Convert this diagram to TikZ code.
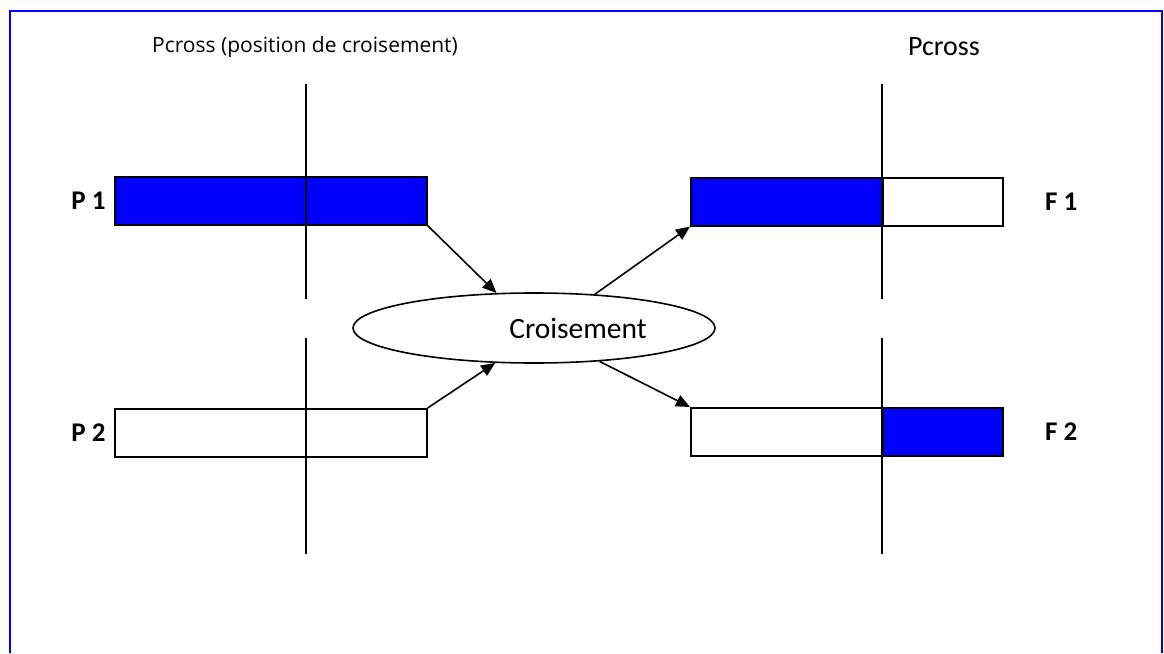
\documentclass[tikz,border=0pt]{standalone}
\usepackage{fontspec}
\setmainfont{Carlito}
\newfontfamily\handfont{Open Sans}
\usepackage{tikz}
\usetikzlibrary{shapes.geometric, arrows.meta, positioning}
\tikzstyle{chrom}  = [rectangle, draw=black, line width=1.6pt, minimum height=48pt, inner sep=0pt, anchor=north west]
\tikzstyle{gene}   = [chrom, fill=blue]
\tikzstyle{tag}    = [font=\bfseries\fontsize{27}{27}\selectfont]
\tikzstyle{arrow}  = [line width=1.6pt, -{Triangle[length=14pt, width=12pt]}]
\tikzstyle{cut}    = [line width=1.6pt]

\begin{document}
\begin{tikzpicture}[x=1pt, y=-1pt]
    \useasboundingbox (0,0) rectangle (1164,653);
    \draw [blue, line width=2.4pt] (10,653) -- (10,11) -- (1162,11) -- (1162,653);

    \node (pos)  [font=\handfont\fontsize{21}{21}\selectfont] at (305,47) {Pcross (position de croisement)};
    \node (pos2) [font=\fontsize{28}{28}\selectfont] at (944,47) {Pcross};

    % parents
    \node (P1)  [gene,  minimum width=312pt] at (114,176) {};
    \node (P2)  [chrom, minimum width=312pt] at (114,408) {};
    % children, cut at Pcross
    \node (F1a) [gene,  minimum width=192pt] at (690,177) {};
    \node (F1b) [chrom, minimum width=120pt] at (882,177) {};
    \node (F2a) [chrom, minimum width=192pt] at (690,407) {};
    \node (F2b) [gene,  minimum width=120pt] at (882,407) {};

    \node (lP1) [tag, left=5pt of P1]   {P 1};
    \node (lP2) [tag, left=5pt of P2]   {P 2};
    \node (lF1) [tag, right=38pt of F1b] {F 1};
    \node (lF2) [tag, right=38pt of F2b] {F 2};

    \foreach \x in {306,882} {
        \draw [cut] (\x,84) -- (\x,299);
        \draw [cut] (\x,338) -- (\x,554);
    }

    \node (cross) [ellipse, draw, line width=1.6pt, minimum width=362pt, minimum height=70pt, inner sep=0pt,
                   font=\fontsize{29.5}{29.5}\selectfont] at (534,328) {\hspace*{88pt}Croisement};

    \draw [arrow] (P1.south east) -- (cross.137);
    \draw [arrow] (P2.north east) -- (cross.222);
    \draw [arrow] (cross.29)  -- (F1a.south west);
    \draw [arrow] (cross.333) -- (F2a.north west);
\end{tikzpicture}
\end{document}
